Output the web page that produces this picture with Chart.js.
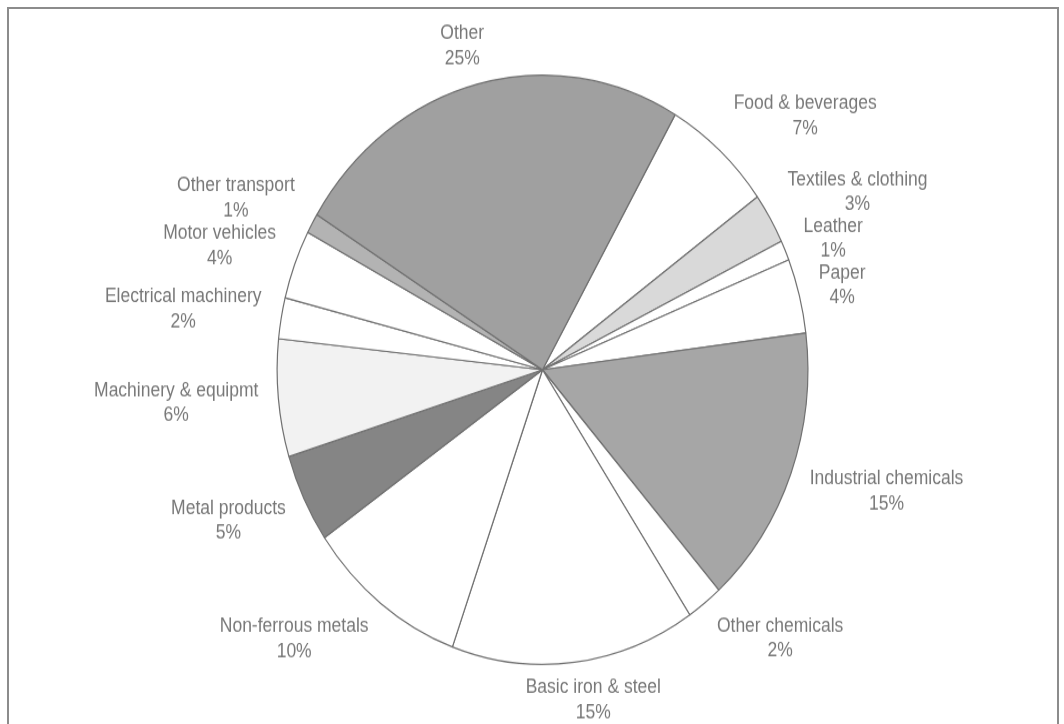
<!DOCTYPE html>
<html>
<head>
<meta charset="utf-8">
<script src="https://cdn.jsdelivr.net/npm/chart.js@4.4.1/dist/chart.umd.min.js"></script>
<style>
  body{margin:0;background:#fff;overflow:hidden;}
  #frame{position:absolute;left:7px;top:7px;width:1048px;height:760px;border:2px solid #8c8c8c;border-bottom:none;}
  #wrap{position:absolute;left:0;top:0;width:1064px;height:652px;transform:scaleY(1.1104);transform-origin:0 0;}
</style>
</head>
<body>
<div id="frame"></div>
<div id="wrap"><canvas id="pie"></canvas></div>
<script>
'use strict';
// sectors, clockwise starting from "Food & beverages"
const categories=['Food & beverages','Textiles & clothing','Leather','Paper','Industrial chemicals','Other chemicals','Basic iron & steel','Non-ferrous metals','Metal products','Machinery & equipmt','Electrical machinery','Motor vehicles','Other transport','Other'];
const shares=[6.7,2.8,1.1,4.1,15.45,2.2,14.9,9.85,4.9,6.45,2.25,3.8,1.1,24.55];
const sliceColors=['#ffffff','#d9d9d9','#ffffff','#ffffff','#a6a6a6','#ffffff','#ffffff','#ffffff','#858585','#f2f2f2','#ffffff','#ffffff','#b3b3b3','#a0a0a0'];

const total=shares.reduce((a,b)=>a+b,0);
const fontSize=17.5;
const lineH=22.5;
const blockH=42;

function clamp(v){
  return Math.max(-1,Math.min(1,v));
}

// outside-end labels: name + percent, pushed apart when they collide
const outsideLabels={
  id:'outsideLabels',
  afterDraw(chart){
    const ctx=chart.ctx;
    const arcs=chart.getDatasetMeta(0).data;
    ctx.save();
    ctx.font=fontSize+'px "Liberation Sans", Arial, sans-serif';
    ctx.fillStyle='#787878';
    ctx.textAlign='center';
    ctx.textBaseline='middle';
    let boxes=[];
    for(let i=0;i<arcs.length;i++){
      let arc=arcs[i];
      let mid=(arc.startAngle+arc.endAngle)/2;
      let dx=Math.cos(mid);
      let dy=Math.sin(mid);
      let pct=Math.round(shares[i]/total*100)+'%';
      let hw=Math.max(ctx.measureText(categories[i]).width,ctx.measureText(pct).width)/2;
      let lx=arc.x+dx*(arc.outerRadius+20)+hw*clamp(dx*2);
      let ly=arc.y+dy*(arc.outerRadius+12)+lineH*clamp(dy*1.5);
      boxes.push({name:categories[i],pct:pct,x:lx,y:ly,right:dx>=0});
    }
    [true,false].forEach(function(side){
      let list=boxes.filter(b=>b.right===side).sort((a,b)=>a.y-b.y);
      for(let k=1;k<list.length;k++){
        if(list[k].y-list[k-1].y<blockH){
          list[k].y=list[k-1].y+blockH;
        }
      }
    });
    boxes.forEach(function(b){
      ctx.fillText(b.name,b.x,b.y-lineH/2);
      ctx.fillText(b.pct,b.x,b.y+lineH/2);
    });
    ctx.restore();
  }
};

let chart=new Chart(document.getElementById('pie'),{
  type:'pie',
  data:{
    labels:categories,
    datasets:[{
      data:shares,
      backgroundColor:sliceColors,
      borderColor:'#707070',
      borderWidth:1.2,
      hoverOffset:0,
      offset:0
    }]
  },
  options:{
    responsive:true,
    maintainAspectRatio:false,
    animation:false,
    events:[],
    rotation:30,
    layout:{padding:{top:67,bottom:53,left:21,right:0}},
    plugins:{legend:{display:false},tooltip:{enabled:false}}
  },
  plugins:[outsideLabels]
});
</script>
</body>
</html>
